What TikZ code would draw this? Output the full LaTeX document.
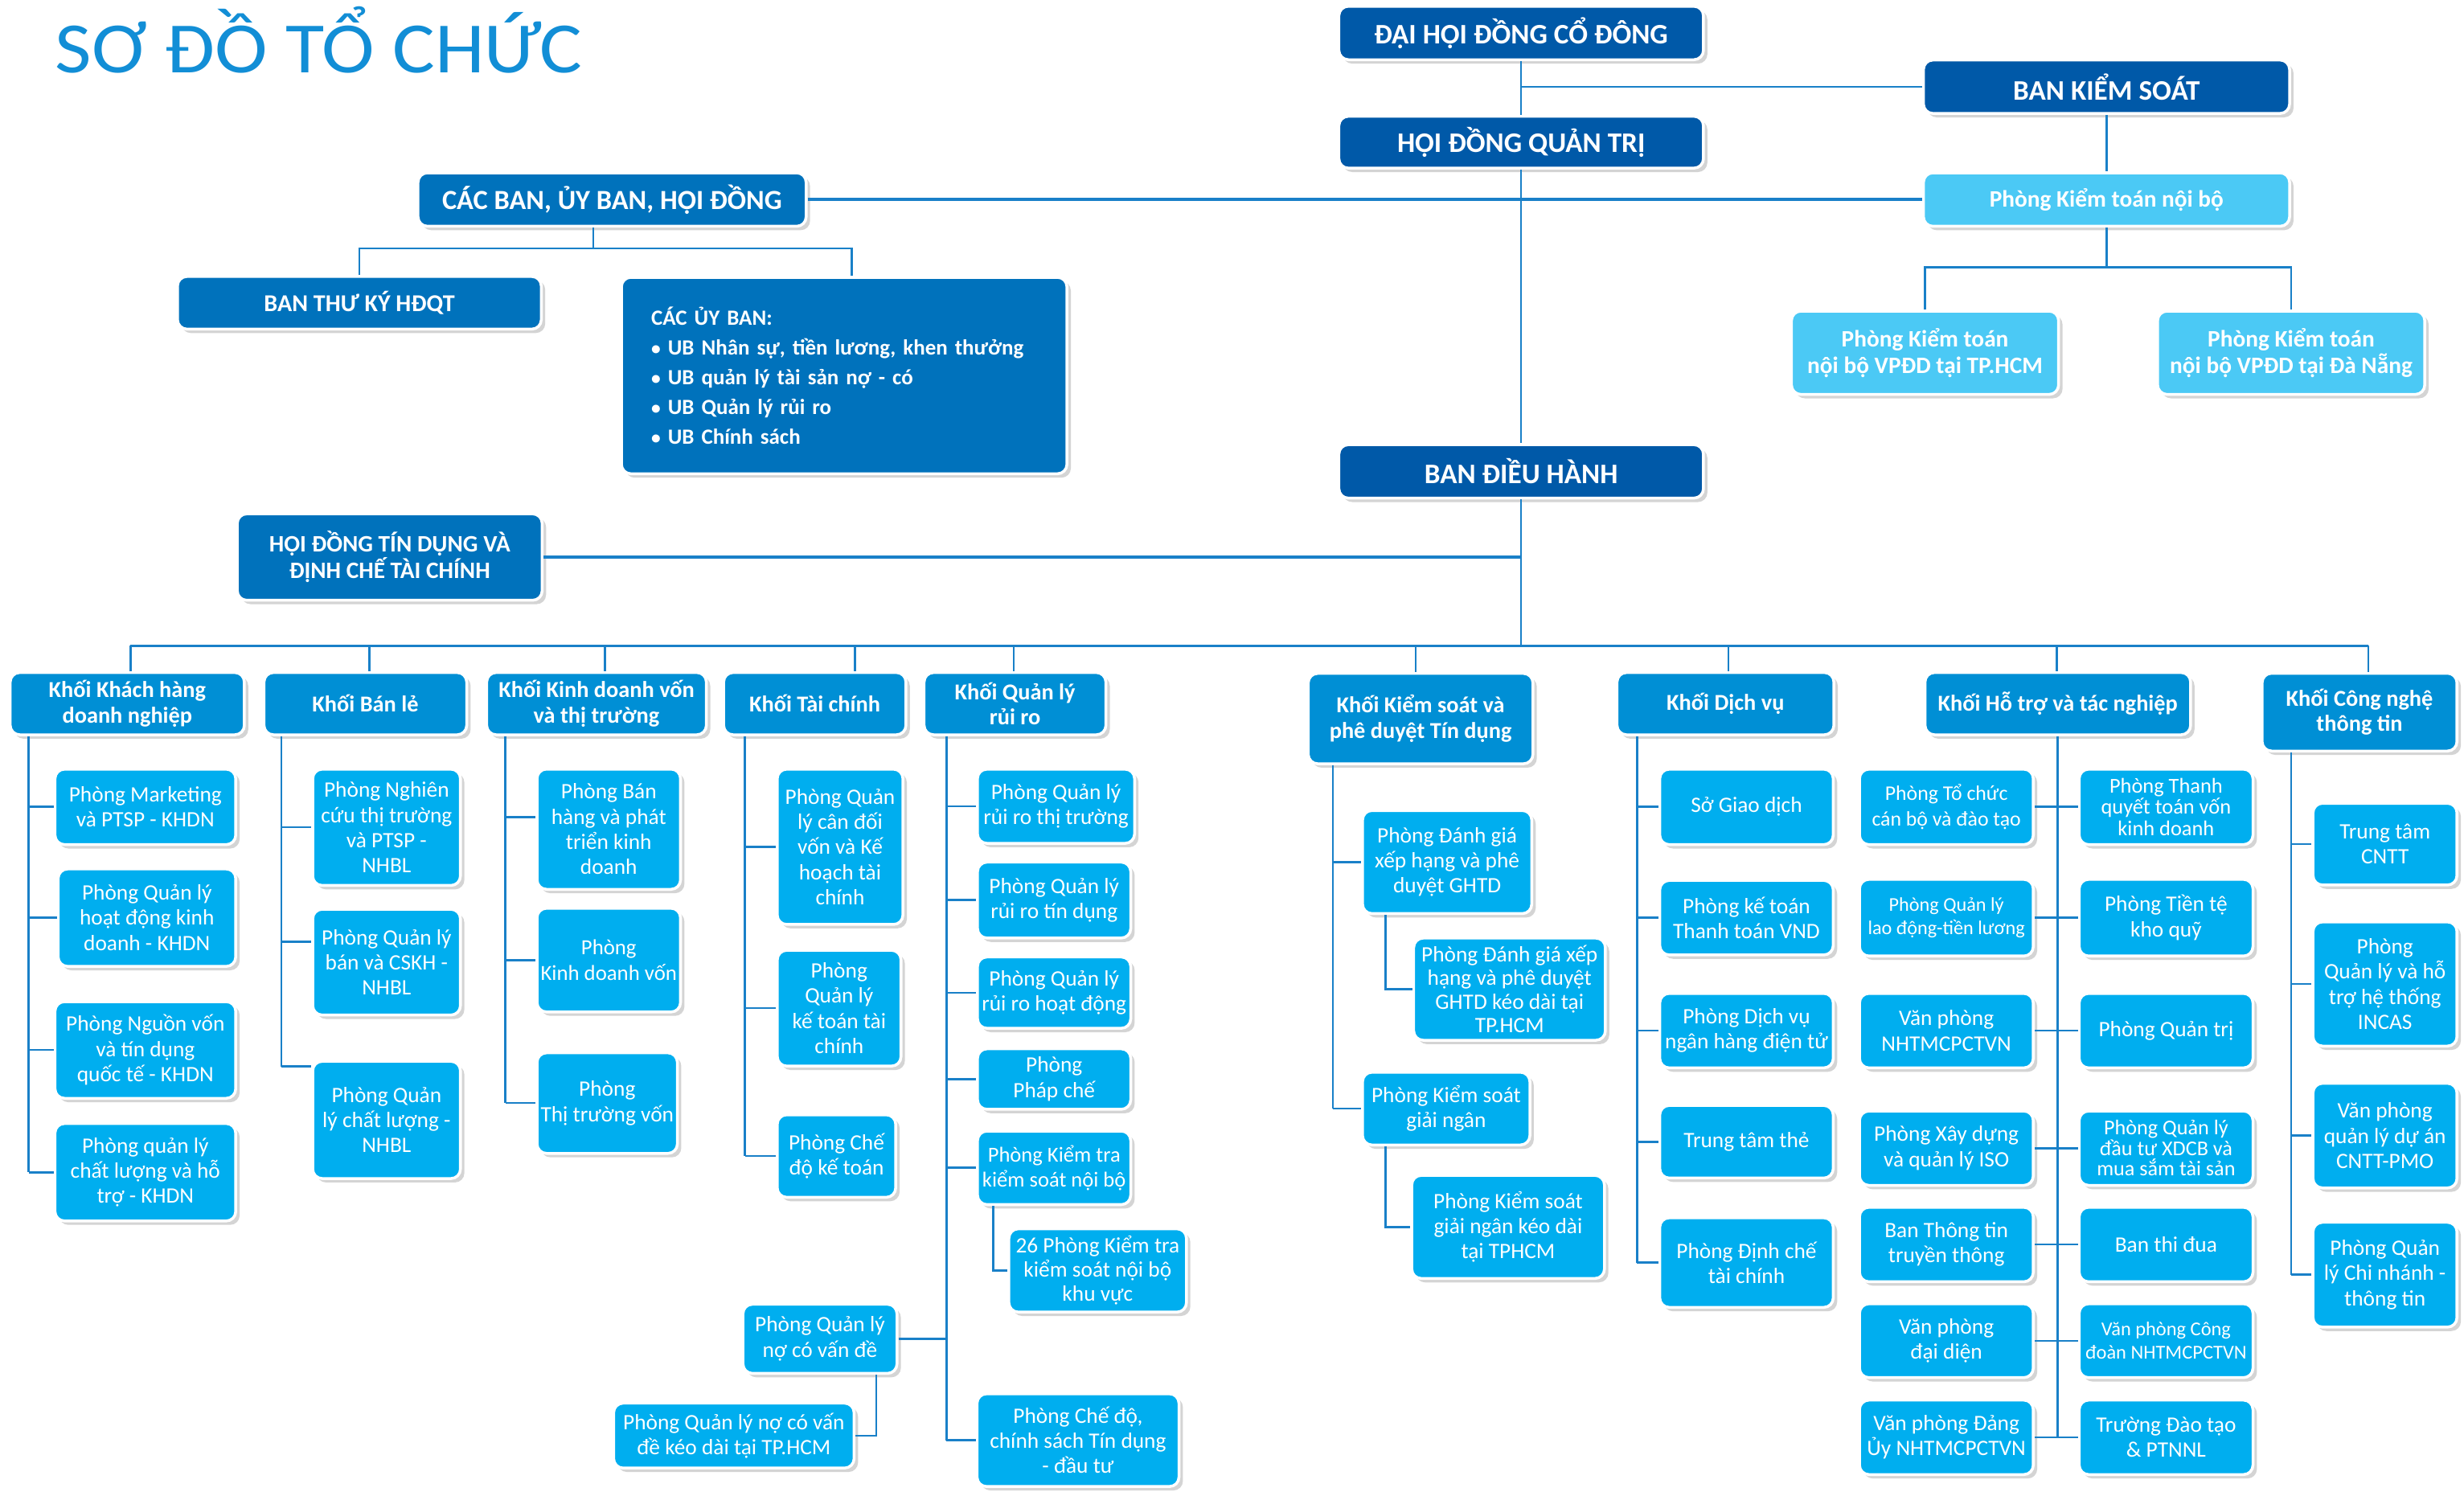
\documentclass[tikz,border=0pt]{standalone}
\usepackage{fontspec}
\setmainfont{Carlito}
\newfontfamily\titlefont[FakeStretch=1.1]{Carlito}
\usetikzlibrary{shadows}
\definecolor{cTop}{RGB}{0,89,168}
\definecolor{cMid}{RGB}{0,114,188}
\definecolor{cHead}{RGB}{0,143,213}
\definecolor{cSub}{RGB}{0,174,239}
\definecolor{cLight}{RGB}{75,201,245}
\definecolor{cLine}{RGB}{25,128,200}
\definecolor{cTitle}{RGB}{18,142,214}
\newcommand\bul{{\fontsize{12}{12}\selectfont •}\ }
\tikzset{
 sz/.style 2 args={minimum width=#1pt, minimum height=#2pt},
 box/.style={rectangle, rounded corners=6pt, draw=white, line width=1.8pt, text=white, align=center, inner sep=0pt,
   drop shadow={shadow xshift=2.5pt, shadow yshift=-2.5pt, opacity=0.28, fill=black!60}},
 topbox/.style={box, fill=cTop, font=\fontsize{18}{21}\selectfont\bfseries},
 midbox/.style={box, fill=cMid, font=\fontsize{15.4}{17}\selectfont\bfseries},
 headbox/.style={box, fill=cHead, font=\fontsize{14.5}{16}\selectfont\bfseries},
 subbox/.style={box, fill=cSub, font=\fontsize{14}{16}\selectfont},
 lightbox/.style={box, fill=cLight, font=\fontsize{15}{17}\selectfont\bfseries},
 conn/.style={draw=cLine, line width=1.3pt},
 bigconn/.style={draw=cLine, line width=1.8pt},
}
\begin{document}
\begin{tikzpicture}[x=1pt,y=-1pt]
\useasboundingbox (0,0) rectangle (1568,949);
\fill[white] (0,0) rectangle (1568,949);

\node[font=\titlefont\fontsize{46}{46}\selectfont, text=cTitle, anchor=base west, inner sep=0pt] (title) at (35,46.5) {SƠ ĐỒ TỔ CHỨC};

% ---------- top level ----------
\node[topbox, sz={232}{34}] (dh) at (968,21) {ĐẠI HỘI ĐỒNG CỔ ĐÔNG};
\node[topbox, sz={232}{33}] (hdqt) at (968,90.5) {HỘI ĐỒNG QUẢN TRỊ};
\node[topbox, sz={232}{34}] (bdh) at (968,300) {BAN ĐIỀU HÀNH};
\node[topbox, sz={233}{34}] (bks) at (1340.5,55.2) {BAN KIỂM SOÁT};
\node[lightbox, sz={233}{34}] (ktnb) at (1340.5,127) {Phòng Kiểm toán nội bộ};
\node[lightbox, sz={170}{53}] (vphcm) at (1225,224.5) {Phòng Kiểm toán\\nội bộ VPĐD tại TP.HCM};
\node[lightbox, sz={170}{53}] (vpdn) at (1458,224.5) {Phòng Kiểm toán\\nội bộ VPĐD tại Đà Nẵng};
\node[midbox, font=\fontsize{17.6}{20}\selectfont\bfseries, sz={247}{34}] (cacban) at (389.5,127) {CÁC BAN, ỦY BAN, HỘI ĐỒNG};
\node[midbox, sz={231.5}{33.5}] (btk) at (228.7,192.7) {BAN THƯ KÝ HĐQT};
\node[midbox, font=\fontsize{13.8}{19}\selectfont\bfseries, align=left, text width=245.5pt, inner xsep=19pt, sz={283.5}{125}] (uyb) at (537.2,239)
 {CÁC ỦY BAN:\\\bul UB Nhân sự, tiền lương, khen thưởng\\\bul UB quản lý tài sản nợ - có\\\bul UB Quản lý rủi ro\\\bul UB Chính sách};
\node[midbox, font=\fontsize{15}{17}\selectfont\bfseries, sz={194}{55}] (hdtd) at (248,354.5) {HỘI ĐỒNG TÍN DỤNG VÀ\\ĐỊNH CHẾ TÀI CHÍNH};

% ---------- Khoi headers ----------
\node[headbox, sz={149}{39.6}] (k1) at (81,447.8) {Khối Khách hàng\\doanh nghiệp};
\node[headbox, sz={129}{39.6}] (k2) at (232.5,447.8) {Khối Bán lẻ};
\node[headbox, sz={139.8}{39.6}] (k3) at (379.6,447.8) {Khối Kinh doanh vốn\\và thị trường};
\node[headbox, sz={116}{39.6}] (k4) at (518.5,447.8) {Khối Tài chính};
\node[headbox, sz={115.7}{39.6}] (k5) at (645.9,447.8) {Khối Quản lý\\rủi ro};
\node[headbox, sz={143}{57.5}] (k6) at (904,457.3) {Khối Kiểm soát và\\phê duyệt Tín dụng};
\node[headbox, sz={138}{39.6}] (k7) at (1098,447.8) {Khối Dịch vụ};
\node[headbox, sz={169}{39.6}] (k8) at (1309.5,447.8) {Khối Hỗ trợ và tác nghiệp};
\node[headbox, sz={124}{49.5}] (k9) at (1501.5,453.2) {Khối Công nghệ\\thông tin};

% ---------- KHDN ----------
\node[subbox, sz={115}{48}] (a1) at (92.5,513.5) {Phòng Marketing\\và PTSP - KHDN};
\node[subbox, sz={113}{62}] (a2) at (93.5,584) {Phòng Quản lý\\hoạt động kinh\\doanh - KHDN};
\node[subbox, sz={115}{61.5}] (a3) at (92.5,668.2) {Phòng Nguồn vốn\\và tín dụng\\quốc tế - KHDN};
\node[subbox, sz={115}{62}] (a4) at (92.5,746) {Phòng quản lý\\chất lượng và hỗ\\trợ - KHDN};
% ---------- Ban le ----------
\node[subbox, sz={94}{74}] (b1) at (246,526.5) {Phòng Nghiên\\cứu thị trường\\và PTSP -\\NHBL};
\node[subbox, sz={94}{67.3}] (b2) at (246,612.3) {Phòng Quản lý\\bán và CSKH -\\NHBL};
\node[subbox, sz={94}{74.6}] (b3) at (246,712.7) {Phòng Quản\\lý chất lượng -\\NHBL};
% ---------- KDV ----------
\node[subbox, sz={91.3}{76.5}] (c1) at (387.4,527.7) {Phòng Bán\\hàng và phát\\triển kinh\\doanh};
\node[subbox, sz={91.3}{66}, font=\fontsize{13.7}{16}\selectfont] (c2) at (387.4,611) {Phòng\\Kinh doanh vốn};
\node[subbox, sz={89.3}{64}] (c3) at (386.4,702) {Phòng\\Thị trường vốn};
% ---------- Tai chinh ----------
\node[subbox, sz={80}{98.8}] (d1) at (534.6,538.9) {Phòng Quản\\lý cân đối\\vốn và Kế\\hoạch tài\\chính};
\node[subbox, sz={78.7}{73.7}] (d2) at (534,641.6) {Phòng\\Quản lý\\kế toán tài\\chính};
\node[subbox, sz={75.4}{52.5}] (d3) at (532.3,735.7) {Phòng Chế\\độ kế toán};
% ---------- QLRR ----------
\node[subbox, sz={100}{47.2}] (e1) at (672,513.1) {Phòng Quản lý\\rủi ro thị trường};
\node[subbox, sz={97.5}{48.3}] (e2) at (670.8,572.8) {Phòng Quản lý\\rủi ro tín dụng};
\node[subbox, sz={97.5}{45.4}] (e3) at (670.8,631.7) {Phòng Quản lý\\rủi ro hoạt động};
\node[subbox, sz={97.5}{38.5}] (e4) at (670.8,686.7) {Phòng\\Pháp chế};
\node[subbox, sz={97.5}{46.8}, font=\fontsize{13.6}{16}\selectfont] (e5) at (670.8,743.2) {Phòng Kiểm tra\\kiểm soát nội bộ};
\node[subbox, sz={113}{53}, font=\fontsize{14}{15.5}\selectfont] (e6) at (698.5,808.5) {26 Phòng Kiểm tra\\kiểm soát nội bộ\\khu vực};
\node[subbox, sz={98}{44}] (e7) at (521.8,852) {Phòng Quản lý\\nợ có vấn đề};
\node[subbox, sz={153}{41.3}] (e8) at (467,913.6) {Phòng Quản lý nợ có vấn\\đề kéo dài tại TP.HCM};
\node[subbox, sz={128.5}{59}] (e9) at (686,916.5) {Phòng Chế độ,\\chính sách Tín dụng\\- đầu tư};
% ---------- Kiem soat ----------
\node[subbox, sz={107.7}{65.6}] (f1) at (920.9,548.6) {Phòng Đánh giá\\xếp hạng và phê\\duyệt GHTD};
\node[subbox, sz={122}{65}, font=\fontsize{14}{15}\selectfont] (f2) at (960.6,629.5) {Phòng Đánh giá xếp\\hạng và phê duyệt\\GHTD kéo dài tại\\TP.HCM};
\node[subbox, sz={106.5}{46.3}] (f3) at (920.3,705.5) {Phòng Kiểm soát\\giải ngân};
\node[subbox, sz={122.6}{65.6}] (f4) at (959.7,780.8) {Phòng Kiểm soát\\giải ngân kéo dài\\tại TPHCM};
% ---------- Dich vu ----------
\node[subbox, sz={110.4}{48}] (g1) at (1111.4,513.5) {Sở Giao dịch};
\node[subbox, sz={110.4}{47.4}] (g2) at (1111.4,584) {Phòng kế toán\\Thanh toán VND};
\node[subbox, sz={110.4}{47.4}] (g3) at (1111.4,655.9) {Phòng Dịch vụ\\ngân hàng điện tử};
\node[subbox, sz={110.4}{46.2}] (g4) at (1111.4,726.6) {Trung tâm thẻ};
\node[subbox, sz={110.4}{57}] (g5) at (1111.4,803.5) {Phòng Định chế\\tài chính};
% ---------- Ho tro ----------
\node[subbox, sz={110.6}{48}, font=\fontsize{13.2}{16}\selectfont] (hl1) at (1238.6,513.5) {Phòng Tổ chức\\cán bộ và đào tạo};
\node[subbox, sz={110.6}{48.8}, font=\fontsize{12.4}{15}\selectfont] (hl2) at (1238.6,584) {Phòng Quản lý\\lao động-tiền lương};
\node[subbox, sz={110.6}{47.4}] (hl3) at (1238.6,655.9) {Văn phòng\\NHTMCPCTVN};
\node[subbox, sz={110.6}{47.3}] (hl4) at (1238.6,730.7) {Phòng Xây dựng\\và quản lý ISO};
\node[subbox, sz={110.6}{47.4}] (hl5) at (1238.6,792) {Ban Thông tin\\truyền thông};
\node[subbox, sz={110.6}{47}] (hl6) at (1238.6,853.2) {Văn phòng\\đại diện};
\node[subbox, sz={110.6}{47.4}] (hl7) at (1238.6,914.7) {Văn phòng Đảng\\Ủy NHTMCPCTVN};
\node[subbox, sz={110.6}{48}, font=\fontsize{13.5}{13.5}\selectfont] (hr1) at (1378.4,513.5) {Phòng Thanh\\quyết toán vốn\\kinh doanh};
\node[subbox, sz={110.6}{48.8}] (hr2) at (1378.4,584) {Phòng Tiền tệ\\kho quỹ};
\node[subbox, sz={110.6}{47.4}] (hr3) at (1378.4,655.9) {Phòng Quản trị};
\node[subbox, sz={110.6}{47.3}, font=\fontsize{13.4}{13}\selectfont] (hr4) at (1378.4,730.7) {Phòng Quản lý\\đầu tư XDCB và\\mua sắm tài sản};
\node[subbox, sz={110.6}{47.4}] (hr5) at (1378.4,792) {Ban thi đua};
\node[subbox, sz={110.6}{47}, font=\fontsize{12.5}{15}\selectfont] (hr6) at (1378.4,853.2) {Văn phòng Công\\đoàn NHTMCPCTVN};
\node[subbox, sz={110.6}{47.4}] (hr7) at (1378.4,914.7) {Trường Đào tạo\\\& PTNNL};
% ---------- CNTT ----------
\node[subbox, sz={91.6}{52}] (i1) at (1517.7,537.2) {Trung tâm\\CNTT};
\node[subbox, sz={91.6}{79}] (i2) at (1517.7,626.2) {Phòng\\Quản lý và hỗ\\trợ hệ thống\\INCAS};
\node[subbox, sz={91.6}{66.6}] (i3) at (1517.7,722.7) {Văn phòng\\quản lý dự án\\CNTT-PMO};
\node[subbox, sz={91.6}{66.7}] (i4) at (1517.7,811.2) {Phòng Quản\\lý Chi nhánh -\\thông tin};

% ================= connectors =================
\draw[conn] (dh.south) -- (hdqt.north);
\draw[conn] (bks.west) -- (bks.west -| dh.south);
\draw[conn] (hdqt.south) -- (bdh.north);
\draw[bigconn] (cacban.east) -- (ktnb.west);
\draw[conn] (bks.south) -- (ktnb.north);
\coordinate (kb) at (1340.5,170);
\draw[conn] (ktnb.south) -- (kb);
\draw[conn] (vphcm.north) |- (kb) -| (vpdn.north);
\coordinate (cb) at (377.5,158);
\draw[conn] (cb |- cacban.south) -- (cb);
\draw[conn] (btk.north) |- (cb);
\coordinate (ubt) at ([xshift=4.7pt]uyb.north);
\draw[conn] (ubt) |- (cb);
\draw[bigconn] (hdtd.east) -- (hdtd.east -| bdh.south);
\coordinate (bus) at (968,411);
\draw[conn] (bdh.south) -- (bus);
\foreach \k/\s in {k1/2,k2/2.5,k3/5.4,k4/25.5,k5/-0.9,k6/-3,k7/2,k8/-0.5,k9/5.5}{
  \coordinate (t\k) at ([xshift=\s pt]\k.north);
  \draw[conn] (t\k) -- (t\k |- bus);
}
\draw[bigconn] (tk1 |- bus) -- (tk9 |- bus);

% KHDN
\coordinate (v1) at (18.2,0);
\draw[conn] (v1 |- k1.south) -- (v1 |- a4.west);
\foreach \n in {a1,a2,a3,a4}{\draw[conn] (v1 |- \n.west) -- (\n.west);}
% Ban le
\coordinate (v2) at (179,0);
\coordinate (bb2) at ([yshift=13pt]b2.west);
\coordinate (bb3) at ([yshift=34pt]b3.west);
\draw[conn] (v2 |- k2.south) -- (v2 |- bb3);
\draw[conn] (v2 |- b1.west) -- (b1.west);
\draw[conn] (v2 |- bb2) -- (bb2);
\draw[conn] (v2 |- bb3) -- (bb3);
% KDV
\coordinate (v3) at (321.6,0);
\coordinate (cc1) at ([yshift=7.7pt]c1.west);
\draw[conn] (v3 |- k3.south) -- (v3 |- c3.west);
\draw[conn] (v3 |- cc1) -- (cc1);
\foreach \n in {c2,c3}{\draw[conn] (v3 |- \n.west) -- (\n.west);}
% Tai chinh
\coordinate (v4) at (474,0);
\draw[conn] (v4 |- k4.south) -- (v4 |- d3.west);
\foreach \n in {d1,d2,d3}{\draw[conn] (v4 |- \n.west) -- (\n.west);}
% QLRR
\coordinate (v5) at (602.3,0);
\draw[conn] (v5 |- k5.south) -- (v5 |- e9.west);
\foreach \n in {e1,e2,e3,e4,e5,e9}{\draw[conn] (v5 |- \n.west) -- (\n.west);}
\draw[conn] (e7.east) -- (v5 |- e7.east);
\coordinate (s5) at (632,0);
\draw[conn] (s5 |- e5.south) |- (e6.west);
\coordinate (s7) at (557.6,0);
\draw[conn] (s7 |- e7.south) |- (e8.east);
% Kiem soat
\coordinate (v6) at (848.3,0);
\draw[conn] (v6 |- k6.south) -- (v6 |- f3.west);
\foreach \n in {f1,f3}{\draw[conn] (v6 |- \n.west) -- (\n.west);}
\coordinate (s6) at (881.7,0);
\draw[conn] (s6 |- f1.south) |- (f2.west);
\draw[conn] (s6 |- f3.south) |- (f4.west);
% Dich vu
\coordinate (v7) at (1041.7,0);
\draw[conn] (v7 |- k7.south) -- (v7 |- g5.west);
\foreach \n in {g1,g2,g3,g4,g5}{\draw[conn] (v7 |- \n.west) -- (\n.west);}
% Ho tro
\coordinate (v8) at (1309.4,0);
\draw[conn] (v8 |- k8.south) -- (v8 |- hl7.east);
\foreach \n in {1,...,7}{\draw[conn] (hl\n.east) -- (hr\n.west);}
% CNTT
\coordinate (v9) at (1457.9,0);
\draw[conn] (v9 |- k9.south) -- (v9 |- i4.west);
\foreach \n in {i1,i2,i3,i4}{\draw[conn] (v9 |- \n.west) -- (\n.west);}
\end{tikzpicture}
\end{document}
